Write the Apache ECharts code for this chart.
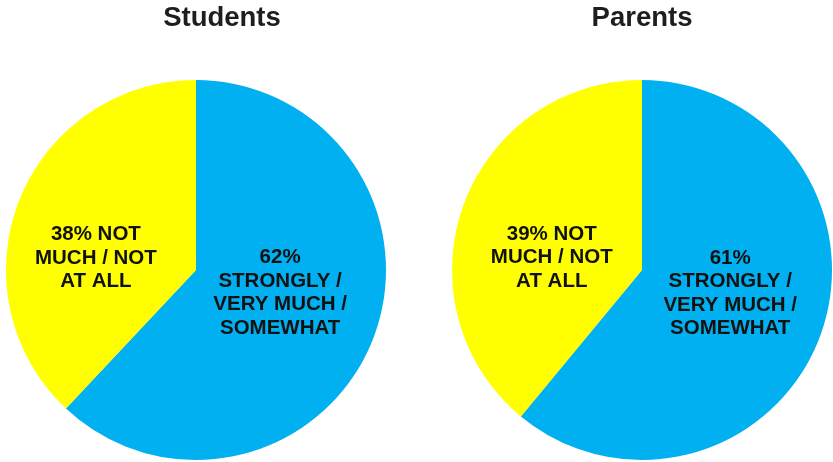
<!DOCTYPE html>
<html>
<head>
<meta charset="utf-8">
<script src="https://cdn.jsdelivr.net/npm/echarts@6/dist/echarts.min.js"></script>
<style>html,body{margin:0;padding:0;background:#fff;}#c{width:833px;height:462px;}</style>
</head>
<body>
<div id="c"></div>
<script>
var groups = ['Students', 'Parents'];
var categories = ['STRONGLY / VERY MUCH / SOMEWHAT', 'NOT MUCH / NOT AT ALL'];
var studentValues = [62, 38];
var parentValues = [61, 39];
var studentLabels = ['62%\nSTRONGLY /\nVERY MUCH /\nSOMEWHAT', '38% NOT\nMUCH / NOT\nAT ALL'];
var parentLabels = ['61%\nSTRONGLY /\nVERY MUCH /\nSOMEWHAT', '39% NOT\nMUCH / NOT\nAT ALL'];

var colors = ['#00B0F0', '#FFFF00'];
var font = '"Liberation Sans", Arial, sans-serif';

function makeData(values, labels) {
  return values.map(function (v, i) {
    return { name: categories[i], value: v, labelText: labels[i], itemStyle: { color: colors[i] } };
  });
}

var labelShift = [
  [{ dx: -7, dy: -13 }, { dx: -9, dy: 24 }],
  [{ dx: -4, dy: -10 }, { dx: 2, dy: 21 }]
];

function makeSeries(idx, values, labels, center) {
  return {
    type: 'pie',
    radius: 190,
    center: center,
    startAngle: 90,
    clockwise: true,
    silent: true,
    data: makeData(values, labels),
    label: {
      show: true,
      position: 'inside',
      formatter: function (p) { return p.data.labelText; },
      fontFamily: font,
      fontWeight: 'bold',
      fontSize: 20.5,
      lineHeight: 23.5,
      color: '#111',
      align: 'center'
    },
    labelLine: { show: false },
    labelLayout: function (p) {
      return labelShift[idx][p.dataIndex];
    },
    emphasis: { disabled: true }
  };
}

var chart = echarts.init(document.getElementById('c'));
chart.setOption({
  animation: false,
  backgroundColor: '#fff',
  title: [
    { text: groups[0], left: 222, top: 4, textAlign: 'center', padding: 0,
      textStyle: { fontFamily: font, fontWeight: 'bold', fontSize: 27.5, color: '#1e1e1e' } },
    { text: groups[1], left: 642, top: 4, textAlign: 'center', padding: 0,
      textStyle: { fontFamily: font, fontWeight: 'bold', fontSize: 27.5, color: '#1e1e1e' } }
  ],
  series: [
    makeSeries(0, studentValues, studentLabels, [196, 270]),
    makeSeries(1, parentValues, parentLabels, [642, 270])
  ]
});
</script>
</body>
</html>
